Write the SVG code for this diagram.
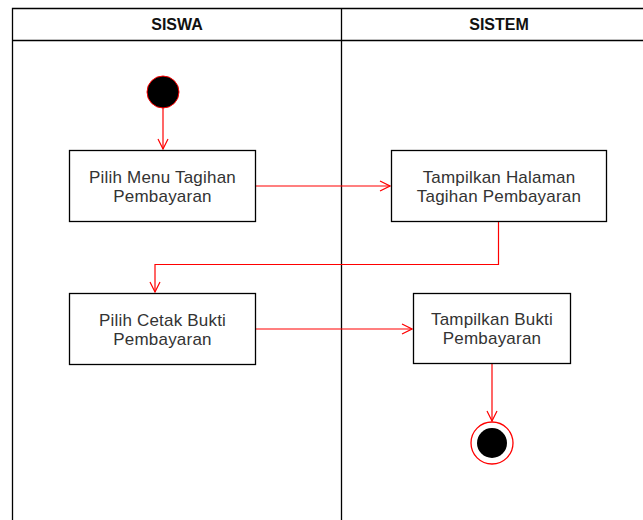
<svg xmlns="http://www.w3.org/2000/svg" width="643" height="520" viewBox="0 0 643 520">
<style>
.lane{fill:none;stroke:#000;stroke-width:1.3}
.box{fill:#fff;stroke:#000;stroke-width:1.3}
.t{font-family:"Liberation Sans",Arial,sans-serif;font-size:17px;fill:#333;text-anchor:middle;letter-spacing:0.2px}
.h{font-family:"Liberation Sans",Arial,sans-serif;font-size:16px;font-weight:bold;fill:#111;text-anchor:middle}
.c{fill:none;stroke:#ff0000;stroke-width:1.2}
</style>
<defs>
<marker id="arr" viewBox="0 0 12 12" refX="11" refY="6" markerWidth="12" markerHeight="12" markerUnits="userSpaceOnUse" orient="auto">
<path d="M1,1 L11,6 L1,11" fill="none" stroke="#ff0000" stroke-width="1.2"/>
</marker>
</defs>
<rect width="643" height="520" fill="#fff"/>
<g id="pool">
<path class="lane" d="M12.5,520 V8.5 H643 M12.5,40.5 H643 M341.5,8.5 V520"/>
<text class="h" x="177" y="30">SISWA</text>
<text class="h" x="499" y="30">SISTEM</text>
</g>
<g id="connectors">
<path class="c" d="M163,108 V149" marker-end="url(#arr)"/>
<path class="c" d="M255,186 H390" marker-end="url(#arr)"/>
<path class="c" d="M498.5,222 V264.5 H155 V292" marker-end="url(#arr)"/>
<path class="c" d="M255,329 H412" marker-end="url(#arr)"/>
<path class="c" d="M492,364 V421" marker-end="url(#arr)"/>
</g>
<g id="start">
<circle cx="163" cy="92" r="16" fill="#000" stroke="#ff0000" stroke-width="1"/>
</g>
<g id="n1">
<rect class="box" x="69.5" y="150.5" width="186" height="71"/>
<text class="t" x="162.5" y="182.5">Pilih Menu Tagihan</text>
<text class="t" x="162.5" y="201.5">Pembayaran</text>
</g>
<g id="n2">
<rect class="box" x="391.5" y="150.5" width="215" height="71"/>
<text class="t" x="499" y="182.5">Tampilkan Halaman</text>
<text class="t" x="499" y="201.5">Tagihan Pembayaran</text>
</g>
<g id="n3">
<rect class="box" x="69.5" y="293.5" width="186" height="71"/>
<text class="t" x="162.5" y="325.5">Pilih Cetak Bukti</text>
<text class="t" x="162.5" y="344.5">Pembayaran</text>
</g>
<g id="n4">
<rect class="box" x="413.5" y="293.5" width="157" height="70"/>
<text class="t" x="492" y="325">Tampilkan Bukti</text>
<text class="t" x="492" y="344">Pembayaran</text>
</g>
<g id="end">
<circle cx="492" cy="443" r="21" fill="none" stroke="#ff0000" stroke-width="1.3"/>
<circle cx="492" cy="443" r="15" fill="#000"/>
</g>
</svg>
